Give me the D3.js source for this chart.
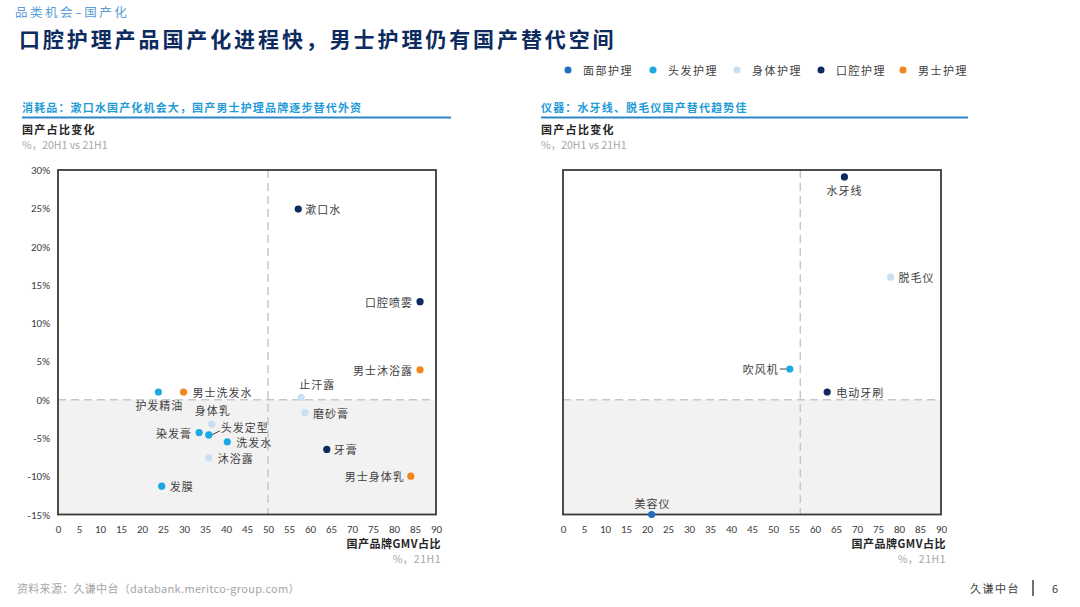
<!DOCTYPE html>
<html>
<head>
<meta charset="utf-8">
<script src="https://cdn.jsdelivr.net/npm/d3@7"></script>
<style>
  html, body { margin: 0; padding: 0; background: #fff; }
  svg { display: block; font-family: "Noto Sans CJK SC", "Noto Sans", sans-serif; }
</style>
</head>
<body>
<svg id="chart" width="1080" height="607"></svg>
<script>
// ---------- data ----------
const categories = ['面部护理', '头发护理', '身体护理', '口腔护理', '男士护理'];
const categoryColors = ['#1f6fbf', '#1ba9e1', '#c9e0f4', '#0d2b5e', '#f0861c'];

// Left panel: consumables
const leftNames    = ['漱口水', '口腔喷雾', '男士沐浴露', '止汗露', '磨砂膏', '牙膏', '男士身体乳', '护发精油', '男士洗发水', '身体乳', '头发定型', '染发膏', '洗发水', '沐浴露', '发膜'];
const leftCategory = ['口腔护理', '口腔护理', '男士护理', '身体护理', '身体护理', '口腔护理', '男士护理', '头发护理', '男士护理', '身体护理', '头发护理', '头发护理', '头发护理', '身体护理', '头发护理'];
const leftGMV      = [57.2, 86.2, 86.2, 57.9, 58.8, 64.0, 84.0, 23.9, 29.9, 36.6, 35.9, 33.6, 40.3, 35.9, 24.7];
const leftChange   = [24.9, 12.8, 3.9, 0.3, -1.7, -6.5, -10.0, 1.0, 1.0, -3.2, -4.6, -4.3, -5.5, -7.6, -11.3];

// Right panel: devices
const rightNames    = ['水牙线', '脱毛仪', '吹风机', '电动牙刷', '美容仪'];
const rightCategory = ['口腔护理', '身体护理', '头发护理', '口腔护理', '面部护理'];
const rightGMV      = [67.0, 78.0, 54.0, 62.9, 21.1];
const rightChange   = [29.1, 16.0, 4.0, 1.0, -15.0];

const xTicks = [0, 5, 10, 15, 20, 25, 30, 35, 40, 45, 50, 55, 60, 65, 70, 75, 80, 85, 90];
const yTicks = [-15, -10, -5, 0, 5, 10, 15, 20, 25, 30];
const leftDivider = 50;
const rightDivider = 56.5;

// label placement (offset from the dot, anchor, optional leader)
const labelPlacement = {
  '漱口水': [7, 0, 'start'],
  '口腔喷雾': [-7, 0, 'end'],
  '男士沐浴露': [-7, 0, 'end'],
  '止汗露': [-2, -13, 'start'],
  '磨砂膏': [8, 0, 'start'],
  '牙膏': [7, 0, 'start'],
  '男士身体乳': [-6, 0, 'end'],
  '护发精油': [1, 13, 'middle'],
  '男士洗发水': [9, 0, 'start'],
  '身体乳': [1, -14, 'middle'],
  '头发定型': [12, -8, 'start', 'leaderRight'],
  '染发膏': [-7, 0, 'end'],
  '洗发水': [9, 0, 'start'],
  '沐浴露': [9, 0, 'start'],
  '发膜': [8, 0, 'start'],
  '水牙线': [0, 13, 'middle'],
  '脱毛仪': [8, 0, 'start'],
  '吹风机': [-11, 0, 'end', 'leaderLeft'],
  '电动牙刷': [9, 0, 'start'],
  '美容仪': [1, -12, 'middle']
};

// ---------- drawing ----------
const svg = d3.select('#chart');
const color = d3.scaleOrdinal().domain(categories).range(categoryColors);

// header
svg.append('text').attr('x', 15).attr('y', 17).attr('font-size', 12.5).attr('fill', '#5b9bd5')
  .attr('letter-spacing', 2.5).text('品类机会–国产化');
svg.append('text').attr('x', 19).attr('y', 47).attr('font-size', 21).attr('font-weight', 'bold')
  .attr('fill', '#0d2b5e').attr('letter-spacing', 2.9)
  .text('口腔护理产品国产化进程快，男士护理仍有国产替代空间');

// legend
const legendX = [568, 653, 737, 821, 903];
const lg = svg.append('g');
categories.forEach((c, i) => {
  lg.append('circle').attr('cx', legendX[i]).attr('cy', 70).attr('r', 3.5).attr('fill', color(c));
  lg.append('text').attr('x', legendX[i] + 15).attr('y', 70).attr('dominant-baseline', 'central')
    .attr('font-size', 11).attr('fill', '#404040').attr('letter-spacing', 1.5).text(c);
});

function panel(opts) {
  const g = svg.append('g');
  // subtitle
  g.append('text').attr('x', opts.subX).attr('y', 112).attr('font-size', 11).attr('font-weight', 'bold')
    .attr('fill', '#1f9bd7').attr('letter-spacing', 1.15).text(opts.subtitle);
  g.append('line').attr('x1', opts.subX).attr('x2', opts.subX2).attr('y1', 117.5).attr('y2', 117.5)
    .attr('stroke', '#2e86c9').attr('stroke-width', 1.8);
  g.append('text').attr('x', opts.subX).attr('y', 134).attr('font-size', 11).attr('font-weight', 'bold')
    .attr('fill', '#262626').attr('letter-spacing', 1.3).text('国产占比变化');
  g.append('text').attr('x', opts.subX).attr('y', 149).attr('font-size', 10.5)
    .attr('fill', '#a6a6a6').text('%，20H1 vs 21H1');

  const x = d3.scaleLinear().domain([0, 90]).range([opts.left, opts.left + 378]);
  const y = d3.scaleLinear().domain([-15, 30]).range([514.5, 170]);

  // shaded negative area
  g.append('rect').attr('x', x(0)).attr('y', y(0)).attr('width', x(90) - x(0)).attr('height', y(-15) - y(0))
    .attr('fill', '#f2f2f2');
  // dashed reference lines
  g.append('line').attr('x1', x(0)).attr('x2', x(90)).attr('y1', y(0)).attr('y2', y(0))
    .attr('stroke', '#c8c8c8').attr('stroke-width', 1.5).attr('stroke-dasharray', '8,5');
  g.append('line').attr('x1', x(opts.divider)).attr('x2', x(opts.divider)).attr('y1', y(30)).attr('y2', y(-15))
    .attr('stroke', '#c8c8c8').attr('stroke-width', 1.5).attr('stroke-dasharray', '8,5');
  // frame
  g.append('rect').attr('x', x(0)).attr('y', y(30)).attr('width', x(90) - x(0)).attr('height', y(-15) - y(30))
    .attr('fill', 'none').attr('stroke', '#3a3a3a').attr('stroke-width', 1.8);

  // x axis
  const xa = g.append('g').attr('transform', `translate(0,${y(-15)})`)
    .call(d3.axisBottom(x).tickValues(xTicks).tickSize(0).tickPadding(11));
  xa.select('.domain').remove();
  xa.selectAll('text').attr('font-size', 11).attr('fill', '#404040').attr('font-family', 'Calibri, Carlito, "Open Sans", sans-serif');

  if (opts.showY) {
    const ya = g.append('g').attr('transform', `translate(${x(0)},0)`)
      .call(d3.axisLeft(y).tickValues(yTicks).tickSize(0).tickPadding(8).tickFormat(d => d + '%'));
    ya.select('.domain').remove();
    ya.selectAll('text').attr('font-size', 11).attr('fill', '#404040').attr('font-family', 'Calibri, Carlito, "Open Sans", sans-serif');
  }

  // axis title
  g.append('text').attr('x', x(90) + 5).attr('y', 548).attr('text-anchor', 'end').attr('font-size', 11)
    .attr('font-weight', 'bold').attr('fill', '#262626').attr('letter-spacing', 0.5).text('国产品牌GMV占比');
  g.append('text').attr('x', x(90) + 5).attr('y', 563).attr('text-anchor', 'end').attr('font-size', 10.5)
    .attr('fill', '#a6a6a6').attr('letter-spacing', 0.5).text('%，21H1');

  // points
  const pts = opts.names.map((n, i) => ({ name: n, cat: opts.cats[i], gx: opts.gmv[i], gy: opts.change[i] }));
  const pg = g.append('g');
  pts.forEach(p => {
    const cx = x(p.gx), cy = y(p.gy);
    const pl = labelPlacement[p.name];
    if (pl[3] === 'leaderRight') {
      pg.append('line').attr('x1', cx + 3).attr('y1', cy).attr('x2', cx + pl[0] - 1).attr('y2', cy + pl[1] + 4)
        .attr('stroke', '#404040').attr('stroke-width', 1);
    }
    if (pl[3] === 'leaderLeft') {
      pg.append('line').attr('x1', cx + pl[0] + 1).attr('y1', cy).attr('x2', cx - 3).attr('y2', cy)
        .attr('stroke', '#404040').attr('stroke-width', 1);
    }
    pg.append('circle').attr('cx', cx).attr('cy', cy).attr('r', 3.6).attr('fill', color(p.cat));
    pg.append('text').attr('x', cx + pl[0]).attr('y', cy + pl[1]).attr('text-anchor', pl[2])
      .attr('dominant-baseline', 'central').attr('font-size', 11).attr('fill', '#404040')
      .attr('letter-spacing', 1).text(p.name);
  });
}

panel({ left: 58, subX: 22, subX2: 451, divider: leftDivider, showY: true,
  subtitle: '消耗品：漱口水国产化机会大，国产男士护理品牌逐步替代外资',
  names: leftNames, cats: leftCategory, gmv: leftGMV, change: leftChange });
panel({ left: 563, subX: 541, subX2: 968, divider: rightDivider, showY: false,
  subtitle: '仪器：水牙线、脱毛仪国产替代趋势佳',
  names: rightNames, cats: rightCategory, gmv: rightGMV, change: rightChange });

// footer
svg.append('text').attr('x', 17).attr('y', 593).attr('font-size', 11).attr('fill', '#a6a6a6')
  .attr('letter-spacing', 0.3).text('资料来源：久谦中台（databank.meritco-group.com）');
svg.append('text').attr('x', 970).attr('y', 593).attr('font-size', 11).attr('fill', '#404040')
  .attr('letter-spacing', 1.5).text('久谦中台');
svg.append('line').attr('x1', 1033).attr('x2', 1033).attr('y1', 580).attr('y2', 596)
  .attr('stroke', '#404040').attr('stroke-width', 1.5);
svg.append('text').attr('x', 1052).attr('y', 593).attr('font-size', 11).attr('fill', '#404040').text('6');
</script>
</body>
</html>
